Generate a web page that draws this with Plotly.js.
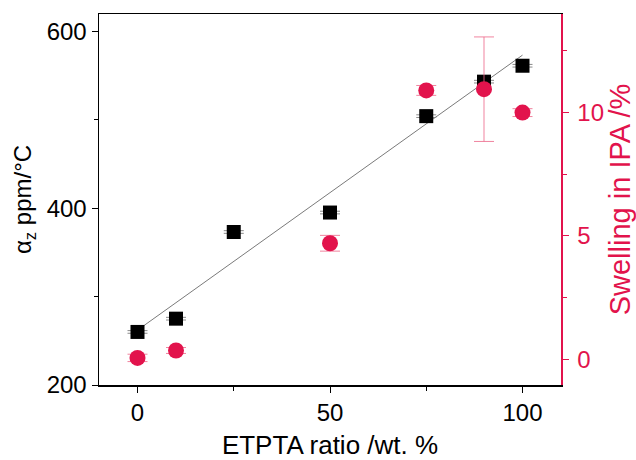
<!DOCTYPE html>
<html>
<head>
<meta charset="utf-8">
<script src="https://cdn.plot.ly/plotly-3.0.1.min.js"></script>
<style>html,body{margin:0;padding:0;background:#fff;}#chart{width:636px;height:460px;}</style>
</head>
<body>
<div id="chart"></div>
<script>
// ETPTA ratio (wt. %)
var ratioAlpha = [0, 10, 25, 50, 75, 90, 100];
var alphaZ = [260, 275, 373, 395, 504, 543, 561];
var alphaErr = [1.5, 1.5, 1.5, 1.5, 1.5, 1.5, 1.5];

var ratioSwell = [0, 10, 50, 75, 90, 100];
var swelling = [0.05, 0.35, 4.7, 10.9, 10.95, 10.0];
var swellErr = [0.15, 0.12, 0.32, 0.2, 2.12, 0.16];

var fitX = [0, 100];
var fitY = [262, 573];

var RED = '#e2134c';
var FONT = '"Liberation Sans", Arial, sans-serif';

var traces = [
  {x: fitX, y: fitY, type: 'scatter', mode: 'lines',
   line: {color: '#7a7a7a', width: 1}, hoverinfo: 'skip', showlegend: false},
  {x: ratioAlpha, y: alphaZ, type: 'scatter', mode: 'markers',
   marker: {symbol: 'square', size: 14, color: '#000'},
   error_y: {type: 'data', array: alphaErr, visible: true, color: '#8a8a8a', thickness: 1, width: 10},
   showlegend: false},
  {x: ratioSwell, y: swelling, type: 'scatter', mode: 'markers', yaxis: 'y2',
   marker: {symbol: 'circle', size: 16, color: RED},
   error_y: {type: 'data', array: swellErr, visible: true, color: 'rgba(236,100,135,0.8)', thickness: 1, width: 10},
   showlegend: false}
];

var layout = {
  width: 636, height: 460,
  margin: {l: 99, r: 75, t: 14, b: 75},
  paper_bgcolor: '#fff', plot_bgcolor: '#fff',
  font: {family: FONT, size: 24, color: '#000'},
  showlegend: false,
  xaxis: {
    range: [-10, 110], tickvals: [0, 50, 100], ticktext: ['0', '50', '100'],
    ticks: 'outside', ticklen: 6, tickwidth: 1, tickcolor: '#000',
    minor: {tickvals: [25, 75], ticks: 'outside', ticklen: 4, tickcolor: '#000'},
    showline: true, linecolor: '#000', linewidth: 1.5, mirror: true,
    showgrid: false, zeroline: false,
    tickfont: {size: 24, family: FONT},
    title: {text: 'ETPTA ratio /wt. %', font: {size: 26, family: FONT}, standoff: 12}
  },
  yaxis: {
    range: [200, 619.5], tickvals: [200, 400, 600],
    ticks: 'outside', ticklen: 6, tickwidth: 1, tickcolor: '#000',
    minor: {tickvals: [300, 500], ticks: 'outside', ticklen: 4, tickcolor: '#000'},
    showline: true, linecolor: '#000', linewidth: 1.5,
    showgrid: false, zeroline: false,
    tickfont: {size: 24, family: FONT},
    title: {text: 'α<sub>z</sub> ppm/°C', font: {size: 24, family: FONT}, standoff: 8}
  },
  yaxis2: {
    overlaying: 'y', side: 'right',
    range: [-1.05, 14.0], tickvals: [0, 5, 10],
    ticks: 'outside', ticklen: 6, tickwidth: 1, tickcolor: RED,
    minor: {tickvals: [2.5, 7.5, 12.5], ticks: 'outside', ticklen: 4, tickcolor: RED},
    showline: true, linecolor: RED, linewidth: 1.5,
    showgrid: false, zeroline: false,
    ticklabelstandoff: 4,
    tickfont: {size: 24, family: FONT, color: RED},
    title: {text: 'Swelling in IPA /%', font: {size: 29, family: FONT, color: RED}, standoff: 6}
  }
};

Plotly.newPlot('chart', traces, layout, {displayModeBar: false, staticPlot: true});
</script>
</body>
</html>
